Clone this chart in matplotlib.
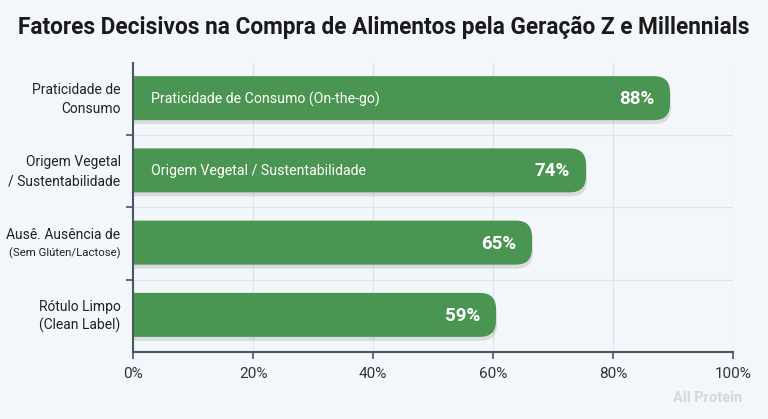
import matplotlib
matplotlib.use("Agg")
import matplotlib.pyplot as plt
from matplotlib.patches import FancyBboxPatch

plt.rcParams['font.family'] = ['Roboto', 'DejaVu Sans']

# dados
labels_top = ["Praticidade de", "Origem Vegetal", "Ausê. Ausência de", "Rótulo Limpo"]
labels_bottom = ["Consumo", "/ Sustentabilidade", "(Sem Glúten/Lactose)", "(Clean Label)"]
inner_labels = ["Praticidade de Consumo (On-the-go)", "Origem Vegetal / Sustentabilidade", "", ""]
values = [88, 74, 65, 59]
xticks = [0, 20, 40, 60, 80, 100]

bg = "#f3f6fa"
green = "#4a9552"
axis_col = "#4a5568"
grid_col = "#dde3ea"

fig = plt.figure(figsize=(7.68, 4.19), dpi=100, facecolor=bg)
ax = fig.add_axes([133/768, 1-352/419, 600/768, 289/419])
ax.set_facecolor(bg)
ax.set_xlim(0, 100)
ax.set_ylim(3.5, -0.5)

# cantos redondos: escala x/y em pixels
px_x = 600/100
px_y = 289/4
aspect = px_x/px_y
r = 16/px_x
h = 44/px_y
ext = 1.5  # a ponta arredondada passa um pouco do valor

for i, v in enumerate(values):
    # sombra
    sh = FancyBboxPatch((-10, i - h/2 + 3/px_y), v + 10 + ext + 1/px_x, h,
                        boxstyle=f"round,pad=0,rounding_size={r}",
                        mutation_aspect=aspect, fc="#000000", ec="none",
                        alpha=0.10, zorder=2)
    ax.add_patch(sh)
    p = FancyBboxPatch((-10, i - h/2 - 1/px_y), v + 10 + ext, h,
                       boxstyle=f"round,pad=0,rounding_size={r}",
                       mutation_aspect=aspect, fc=green, ec="none", zorder=3)
    ax.add_patch(p)
    ax.annotate(f"{v}%", (v + ext, i), xytext=(-11.5, 0), textcoords="offset points",
                ha="right", va="center", color="white", fontsize=13.5,
                fontweight="bold", zorder=4)
    if inner_labels[i]:
        ax.text(3, i, inner_labels[i], ha="left", va="center", color="white",
                fontsize=10.2, zorder=4)
    ax.annotate(labels_top[i], (0, i), xytext=(-9, 6.5), textcoords="offset points",
                ha="right", va="center", fontsize=10, color="#222222",
                annotation_clip=False)
    small = 8.2 if i == 2 else 10
    ax.annotate(labels_bottom[i], (0, i), xytext=(-9, -7), textcoords="offset points",
                ha="right", va="center", fontsize=small, color="#222222",
                annotation_clip=False)

ax.set_xticks(xticks)
ax.set_xticklabels([f"{t}%" for t in xticks], fontsize=11, color="#333333")
ax.set_yticks([])
ax.set_yticks([0.5, 1.5, 2.5], minor=True)
ax.tick_params(axis="x", direction="out", length=5, color=axis_col, width=1.2, pad=6)
ax.tick_params(axis="y", which="minor", direction="out", length=5, color=axis_col, width=1.2)
ax.grid(True, axis="x", color=grid_col, lw=0.8, zorder=0)
ax.grid(True, axis="y", which="minor", color=grid_col, lw=0.8, zorder=0)
ax.set_axisbelow(True)
for s in ["top", "right"]:
    ax.spines[s].set_visible(False)
for s in ["left", "bottom"]:
    ax.spines[s].set_color(axis_col)
    ax.spines[s].set_linewidth(1.5)
    ax.spines[s].set_zorder(5)

fig.text(0.5, 1-27/419, "Fatores Decisivos na Compra de Alimentos pela Geração Z e Millennials",
         ha="center", va="center", fontsize=16.3, fontweight="bold", color="#1a1a1a")
fig.text(742/768, 1-398/419, "All Protein", ha="right", va="center", fontsize=10.5,
         fontweight="bold", color="#d3d8de")

fig.savefig("out.png", dpi=100, facecolor=bg)
